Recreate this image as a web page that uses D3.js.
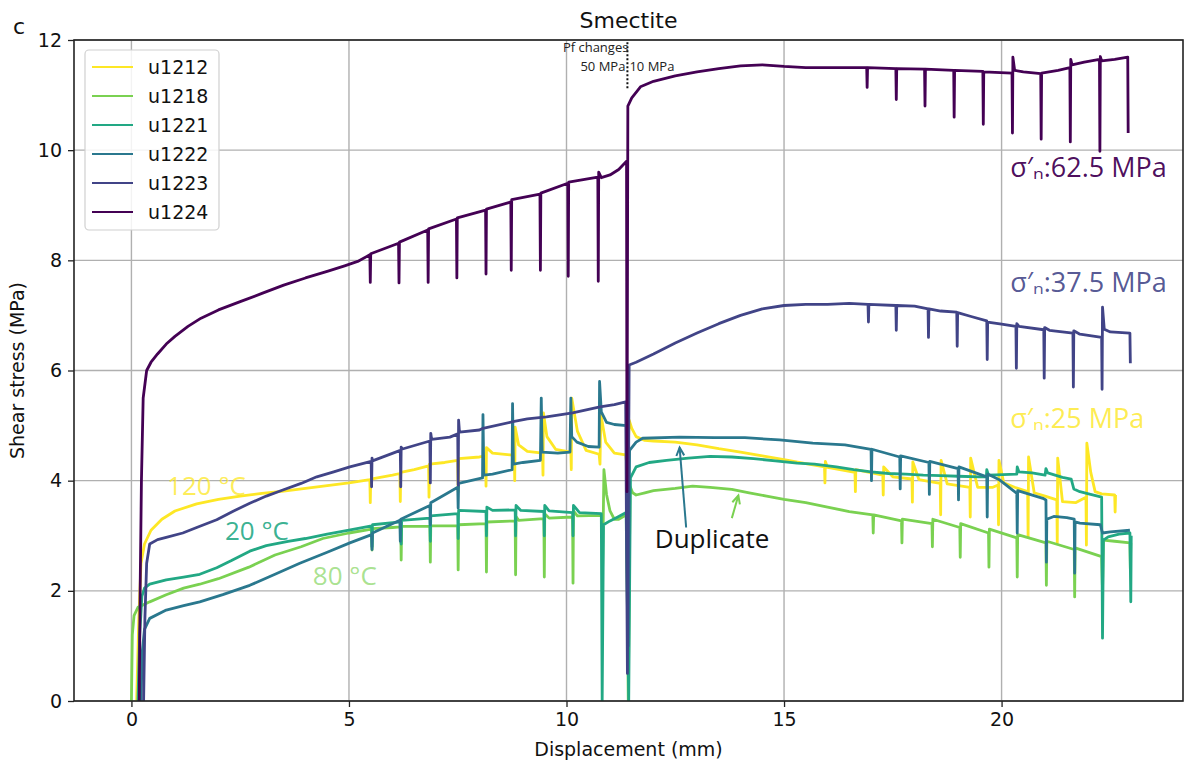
<!DOCTYPE html>
<html><head><meta charset="utf-8">
<script src="https://cdn.jsdelivr.net/npm/d3@7"></script>
<style>
body{margin:0;background:#fff;}
text{font-family:"DejaVu Sans",sans-serif;}
.ann{font-family:"Open Sans","Noto Sans",sans-serif;}
</style></head>
<body><svg id="c" width="1184" height="765"></svg>
<script>
// ---- data ----
const seriesNames = ["u1212","u1218","u1221","u1222","u1223","u1224"];
const seriesColors = ["#fde725","#7ad151","#22a884","#2a788e","#414487","#440154"];
const xTicks = [0,5,10,15,20];
const yTicks = [0,2,4,6,8,10,12];

const u1212 = [[0.12,0],[0.17,1.5],[0.22,2.5],[0.3,2.85],[0.45,3.1],[0.7,3.3],[1.0,3.45],[1.5,3.58],[2.0,3.66],[2.5,3.72],[3.0,3.77],[3.5,3.81],[4.0,3.86],[4.5,3.91],[5.0,3.96],[5.48,4.02],[5.49,3.6],[5.5,4.03],[6.0,4.1],[6.17,4.13],[6.18,3.62],[6.19,4.15],[6.5,4.2],[6.83,4.27],[6.84,3.7],[6.85,4.3],[7.2,4.33],[7.5,4.37],[7.51,3.8],[7.52,4.4],[8.0,4.43],[8.14,4.45],[8.15,3.9],[8.16,4.6],[8.3,4.5],[8.7,4.47],[8.8,4.46],[8.81,4.0],[8.82,4.97],[8.9,4.65],[9.1,4.53],[9.45,4.5],[9.46,4.1],[9.47,5.23],[9.55,4.8],[9.75,4.57],[10.1,4.52],[10.11,4.2],[10.12,5.5],[10.25,4.9],[10.45,4.55],[10.75,4.48],[10.77,4.3],[10.79,5.2],[10.9,4.7],[11.1,4.5],[11.36,4.47],[11.4,4.2],[11.44,5.1],[11.5,4.95],[11.6,4.8],[11.8,4.73],[12.0,4.72],[12.5,4.7],[13.0,4.65],[13.5,4.58],[14.0,4.52],[14.5,4.45],[15.0,4.38],[15.5,4.31],[15.93,4.25],[15.94,3.96],[15.95,4.35],[16.0,4.24],[16.63,4.15],[16.64,3.8],[16.65,4.2],[17.27,4.1],[17.28,3.74],[17.29,4.25],[17.5,4.07],[17.94,4.03],[17.95,3.61],[17.96,4.34],[18.1,4.02],[18.59,3.95],[18.6,3.38],[18.61,4.37],[18.75,3.94],[19.27,3.88],[19.28,3.34],[19.29,4.41],[19.45,3.88],[19.8,3.88],[19.92,3.92],[19.93,3.2],[19.94,4.37],[20.05,3.96],[20.3,3.88],[20.6,3.8],[20.61,2.98],[20.62,4.43],[20.75,3.78],[21.0,3.72],[21.27,3.65],[21.28,2.87],[21.29,4.41],[21.4,3.62],[21.7,3.6],[21.94,3.7],[21.95,2.83],[21.96,4.68],[22.05,4.15],[22.15,3.8],[22.3,3.76],[22.6,3.74],[22.61,3.43],[22.62,3.74]];

const u1218 = [[0.0,0],[0.02,1.2],[0.06,1.55],[0.15,1.7],[0.42,1.8],[0.8,1.93],[1.2,2.05],[1.57,2.12],[2.0,2.22],[2.7,2.43],[3.3,2.65],[3.9,2.8],[4.4,2.95],[5.0,3.05],[5.52,3.12],[5.53,2.74],[5.54,3.13],[6.0,3.15],[6.19,3.16],[6.2,2.56],[6.21,3.17],[6.86,3.17],[6.87,2.52],[6.88,3.18],[7.5,3.18],[7.51,2.38],[7.52,3.2],[8.15,3.22],[8.16,2.34],[8.17,3.25],[8.82,3.27],[8.83,2.29],[8.84,3.35],[8.9,3.28],[9.48,3.31],[9.49,2.25],[9.5,3.4],[9.6,3.32],[10.14,3.34],[10.15,2.14],[10.16,3.45],[10.25,3.36],[10.82,3.37],[10.83,2.43],[10.86,4.2],[10.92,3.75],[11.0,3.45],[11.1,3.3],[11.2,3.3],[11.38,3.38],[11.42,0],[11.46,3.9],[11.52,3.78],[11.6,3.74],[11.8,3.78],[12.0,3.82],[12.5,3.86],[12.9,3.9],[13.3,3.88],[13.8,3.84],[14.2,3.78],[14.6,3.72],[15.0,3.66],[15.5,3.6],[16.0,3.52],[16.5,3.44],[17.04,3.38],[17.05,3.05],[17.06,3.38],[17.7,3.27],[17.71,2.87],[17.72,3.3],[18.4,3.22],[18.41,2.8],[18.42,3.3],[19.04,3.15],[19.05,2.61],[19.06,3.22],[19.7,3.05],[19.71,2.43],[19.72,3.12],[20.35,2.96],[20.36,2.25],[20.37,3.02],[21.02,2.87],[21.03,2.1],[21.04,2.9],[21.67,2.75],[21.68,1.89],[21.69,2.78],[22.3,2.62],[22.32,2.0],[22.34,2.92],[22.6,2.9],[22.95,2.87],[22.96,2.4],[22.97,2.87]];

const u1221 = [[0.15,0],[0.19,1.2],[0.24,1.9],[0.3,2.05],[0.42,2.12],[0.8,2.2],[1.2,2.25],[1.57,2.3],[1.96,2.42],[2.3,2.55],[2.72,2.72],[3.1,2.82],[3.6,2.9],[4.0,2.95],[4.5,3.03],[5.0,3.1],[5.52,3.18],[5.53,2.8],[5.54,3.2],[6.19,3.25],[6.2,2.85],[6.21,3.28],[6.86,3.32],[6.87,2.9],[6.88,3.36],[7.5,3.4],[7.51,2.95],[7.52,3.46],[8.15,3.44],[8.16,3.0],[8.17,3.52],[8.3,3.46],[8.82,3.47],[8.83,3.0],[8.84,3.55],[8.95,3.46],[9.48,3.44],[9.49,3.0],[9.5,3.55],[9.6,3.45],[10.14,3.42],[10.15,3.0],[10.16,3.55],[10.3,3.42],[10.8,3.4],[10.82,0],[10.85,3.2],[11.0,3.27],[11.2,3.35],[11.37,3.42],[11.43,0],[11.47,4.05],[11.6,4.25],[11.9,4.33],[12.3,4.37],[12.8,4.41],[13.3,4.44],[13.8,4.43],[14.3,4.4],[14.8,4.36],[15.3,4.32],[15.7,4.3],[16.2,4.25],[16.6,4.2],[17.0,4.16],[17.4,4.13],[17.8,4.12],[18.2,4.1],[18.6,4.09],[19.0,4.08],[19.5,4.07],[19.65,4.07],[19.66,4.2],[19.7,4.1],[20.35,4.12],[20.36,4.25],[20.4,4.16],[20.7,4.14],[21.0,4.1],[21.02,4.22],[21.06,4.14],[21.4,4.06],[21.6,4.03],[21.66,3.85],[21.8,3.8],[22.0,3.76],[22.3,3.7],[22.32,1.14],[22.34,2.92],[22.45,2.98],[22.7,3.03],[22.95,3.05],[22.97,1.8],[22.98,3.0]];

const u1222 = [[0.22,0],[0.25,0.9],[0.3,1.3],[0.42,1.5],[0.8,1.65],[1.2,1.73],[1.57,1.8],[2.1,1.93],[2.72,2.1],[3.3,2.3],[3.87,2.5],[4.5,2.7],[5.02,2.87],[5.52,3.02],[5.53,2.75],[5.54,3.05],[6.17,3.28],[6.18,2.9],[6.19,3.3],[6.86,3.55],[6.87,3.2],[6.88,3.6],[7.32,3.8],[7.5,3.88],[7.51,3.5],[7.52,3.95],[8.07,4.05],[8.08,5.2],[8.1,4.1],[8.3,4.12],[8.75,4.2],[8.76,5.4],[8.78,4.3],[9.0,4.33],[9.4,4.37],[9.42,5.5],[9.44,4.52],[9.8,4.5],[10.08,4.52],[10.1,5.5],[10.12,4.8],[10.24,4.7],[10.5,4.62],[10.75,4.61],[10.76,5.8],[10.8,5.25],[10.92,5.06],[11.1,5.02],[11.38,5.0],[11.42,1.0],[11.45,4.55],[11.6,4.7],[11.75,4.77],[12.6,4.79],[13.4,4.78],[14.1,4.78],[14.9,4.74],[15.66,4.68],[16.4,4.65],[17.0,4.57],[17.01,4.0],[17.02,4.57],[17.66,4.43],[17.67,3.85],[17.68,4.45],[18.33,4.33],[18.34,3.75],[18.35,4.35],[19.0,4.22],[19.01,3.65],[19.02,4.25],[19.66,4.07],[19.67,3.34],[19.68,4.12],[19.96,4.01],[20.35,3.77],[20.36,3.05],[20.37,3.82],[20.95,3.68],[21.02,3.65],[21.03,2.52],[21.04,3.3],[21.2,3.35],[21.5,3.33],[21.67,3.3],[21.68,2.32],[21.69,3.25],[21.8,3.23],[22.27,3.2],[22.32,3.05],[22.5,3.07],[22.95,3.1]];

const u1223 = [[0.28,0],[0.31,1.5],[0.35,2.5],[0.42,2.85],[0.6,2.93],[0.8,2.97],[1.18,3.05],[1.5,3.15],[1.96,3.29],[2.35,3.45],[2.72,3.59],[3.1,3.72],[3.48,3.83],[3.9,3.95],[4.26,4.07],[4.65,4.16],[5.02,4.25],[5.51,4.35],[5.52,3.89],[5.53,4.41],[5.54,4.36],[6.18,4.55],[6.19,3.89],[6.2,4.61],[6.21,4.57],[6.86,4.72],[6.87,3.96],[6.88,4.86],[6.9,4.75],[7.32,4.79],[7.5,4.85],[7.51,3.92],[7.52,5.1],[7.54,4.88],[8.0,4.92],[8.08,4.95],[8.77,5.07],[9.1,5.12],[9.54,5.16],[10.14,5.23],[10.77,5.34],[11.1,5.38],[11.36,5.43],[11.4,0.5],[11.44,6.1],[11.6,6.15],[12.0,6.3],[12.5,6.5],[13.0,6.68],[13.5,6.85],[14.0,7.0],[14.5,7.12],[15.0,7.18],[15.5,7.2],[16.0,7.2],[16.5,7.22],[16.93,7.2],[16.94,6.88],[16.95,7.2],[17.57,7.18],[17.58,6.73],[17.59,7.18],[18.0,7.17],[18.31,7.12],[18.32,6.6],[18.33,7.12],[18.6,7.08],[18.97,7.06],[18.98,6.44],[18.99,7.05],[19.3,6.98],[19.66,6.9],[19.67,6.2],[19.68,6.88],[20.0,6.84],[20.33,6.8],[20.34,6.04],[20.35,6.85],[20.4,6.8],[20.97,6.74],[20.98,5.86],[20.99,6.78],[21.1,6.73],[21.64,6.68],[21.65,5.7],[21.66,6.72],[21.8,6.66],[22.3,6.6],[22.31,5.66],[22.32,7.15],[22.36,6.75],[22.5,6.7],[22.95,6.68],[22.96,6.13]];

const u1224 = [[0.18,0],[0.2,2.0],[0.23,4.0],[0.27,5.5],[0.35,6.0],[0.45,6.15],[0.6,6.3],[0.8,6.48],[1.0,6.62],[1.3,6.8],[1.6,6.95],[2.0,7.1],[2.5,7.25],[3.0,7.4],[3.5,7.55],[4.0,7.68],[4.5,7.8],[4.9,7.9],[5.2,7.98],[5.48,8.1],[5.49,7.6],[5.5,8.12],[6.14,8.31],[6.15,7.59],[6.16,8.33],[6.81,8.55],[6.82,7.6],[6.83,8.57],[7.47,8.75],[7.48,7.68],[7.49,8.77],[8.14,8.91],[8.15,7.75],[8.16,8.93],[8.72,9.06],[8.73,7.82],[8.74,9.1],[9.39,9.2],[9.4,7.82],[9.41,9.22],[10.03,9.4],[10.04,7.71],[10.05,9.42],[10.72,9.51],[10.73,7.62],[10.74,9.6],[10.8,9.5],[11.0,9.55],[11.2,9.65],[11.38,9.8],[11.39,3.8],[11.41,10.8],[11.5,10.95],[11.7,11.15],[12.0,11.25],[12.5,11.35],[13.0,11.42],[13.5,11.48],[14.0,11.53],[14.5,11.55],[15.0,11.52],[15.5,11.5],[16.0,11.5],[16.5,11.5],[16.9,11.5],[16.91,11.14],[16.92,11.5],[17.57,11.48],[17.58,10.92],[17.59,11.48],[18.23,11.47],[18.24,10.8],[18.25,11.47],[18.9,11.45],[18.91,10.6],[18.92,11.45],[19.57,11.43],[19.58,10.47],[19.59,11.42],[20.24,11.4],[20.25,10.31],[20.26,11.69],[20.3,11.45],[20.5,11.42],[20.9,11.39],[20.91,10.2],[20.92,11.4],[21.3,11.45],[21.57,11.5],[21.58,10.15],[21.59,11.65],[21.62,11.55],[21.9,11.6],[22.25,11.65],[22.26,9.98],[22.27,11.7],[22.3,11.62],[22.6,11.65],[22.9,11.69],[22.91,10.31]];

const seriesData = [u1212,u1218,u1221,u1222,u1223,u1224];
const tempLabels = ["120 °C","20 °C","80 °C"];
const sigmaLabels = ["σ′ₙ:62.5 MPa","σ′ₙ:37.5 MPa","σ′ₙ:25 MPa"];

// ---- layout ----
const svg = d3.select("#c");
const L=74, R=1183, T=40, B=701;
const x = d3.scaleLinear().domain([-1.32,24.17]).range([L,R]);
const y = d3.scaleLinear().domain([0,12]).range([B,T]);

svg.append("rect").attr("x",0).attr("y",0).attr("width",1184).attr("height",765).attr("fill","#fff");
svg.append("defs").append("clipPath").attr("id","clip").append("rect")
  .attr("x",L).attr("y",T).attr("width",R-L).attr("height",B-T);

// grid
const grid = svg.append("g");
grid.selectAll(".gx").data(xTicks).join("line")
  .attr("x1",d=>x(d)).attr("x2",d=>x(d)).attr("y1",T).attr("y2",B)
  .attr("stroke","#b0b0b0").attr("stroke-width",1.4);
grid.selectAll(".gy").data(yTicks).join("line")
  .attr("y1",d=>y(d)).attr("y2",d=>y(d)).attr("x1",L).attr("x2",R)
  .attr("stroke","#b0b0b0").attr("stroke-width",1.4);

// lines
const line = d3.line().x(d=>x(d[0])).y(d=>y(d[1]));
const lg = svg.append("g").attr("clip-path","url(#clip)");
seriesData.forEach((s,i)=>{
  lg.append("path").attr("d",line(s)).attr("fill","none")
    .attr("stroke",seriesColors[i]).attr("stroke-width",2.8)
    .attr("stroke-linejoin","round");
});

// axes
const xAxis = d3.axisBottom(x).tickValues(xTicks).tickSize(6).tickPadding(6);
const yAxis = d3.axisLeft(y).tickValues(yTicks).tickSize(6).tickPadding(6);
const gx = svg.append("g").attr("transform",`translate(0,${B})`).call(xAxis);
const gy = svg.append("g").attr("transform",`translate(${L},0)`).call(yAxis);
[gx,gy].forEach(g=>{
  g.select(".domain").remove();
  g.selectAll("line").attr("stroke","#222").attr("stroke-width",1.3);
  g.selectAll("text").attr("font-family","DejaVu Sans").attr("font-size",19).attr("fill","#111");
});
// frame
svg.append("rect").attr("x",L).attr("y",T).attr("width",R-L).attr("height",B-T)
  .attr("fill","none").attr("stroke","#222").attr("stroke-width",1.6);

// titles
svg.append("text").attr("x",(L+R)/2).attr("y",28).attr("text-anchor","middle")
  .attr("font-size",22).attr("fill","#111").text("Smectite");
svg.append("text").attr("x",13).attr("y",34).attr("font-size",22).attr("fill","#111").text("c");
svg.append("text").attr("x",(L+R)/2).attr("y",756).attr("text-anchor","middle")
  .attr("font-size",19).attr("fill","#111").text("Displacement (mm)");
svg.append("text").attr("transform",`translate(24,${(T+B)/2}) rotate(-90)`).attr("text-anchor","middle")
  .attr("font-size",19).attr("fill","#111").text("Shear stress (MPa)");

// legend
const leg = svg.append("g");
leg.append("rect").attr("x",85).attr("y",50).attr("width",134).attr("height",180).attr("rx",4)
  .attr("fill","#fff").attr("fill-opacity",0.85).attr("stroke","#d0d0d0").attr("stroke-width",1.2);
seriesNames.forEach((n,i)=>{
  const yy = 67 + i*29;
  leg.append("line").attr("x1",92).attr("x2",133).attr("y1",yy).attr("y2",yy)
    .attr("stroke",seriesColors[i]).attr("stroke-width",2.2);
  leg.append("text").attr("x",148).attr("y",yy+7).attr("font-size",19).attr("fill","#111").text(n);
});

// Pf annotation
const xPf = 11.4;
svg.append("line").attr("x1",x(xPf)).attr("x2",x(xPf)).attr("y1",y(11.96)).attr("y2",y(11.1))
  .attr("stroke","#111").attr("stroke-width",2).attr("stroke-dasharray","2,2");
svg.append("text").attr("class","ann").attr("x",x(xPf)+1).attr("y",52).attr("text-anchor","end")
  .attr("font-size",13).attr("fill","#222").text("Pf changes");
svg.append("text").attr("class","ann").attr("x",x(xPf)-2).attr("y",71).attr("text-anchor","end")
  .attr("font-size",13).attr("fill","#222").text("50 MPa");
svg.append("text").attr("class","ann").attr("x",x(xPf)+2).attr("y",71).attr("text-anchor","start")
  .attr("font-size",13).attr("fill","#222").text("10 MPa");

// temperature labels
const tempPos = [[0.82,3.74],[2.15,2.92],[4.17,2.1]];
const tempCol = ["#fde725","#22a884","#7ad151"];
const tempOp = [0.75,0.9,0.65];
tempLabels.forEach((t,i)=>{
  svg.append("text").attr("class","ann").attr("x",x(tempPos[i][0])).attr("y",y(tempPos[i][1]))
    .attr("font-size",26).attr("fill",tempCol[i]).attr("fill-opacity",tempOp[i]).text(t);
});

// Duplicate
svg.append("text").attr("class","ann").attr("x",x(12.03)).attr("y",y(2.78))
  .attr("font-size",26).attr("fill","#111").text("Duplicate");
function arrow(x0,y0,x1,y1,col){
  const px0=x(x0),py0=y(y0),px1=x(x1),py1=y(y1);
  const a=Math.atan2(py1-py0,px1-px0), h=9, w=0.45;
  svg.append("line").attr("x1",px0).attr("y1",py0).attr("x2",px1).attr("y2",py1)
    .attr("stroke",col).attr("stroke-width",2);
  svg.append("path").attr("d",`M${px1-h*Math.cos(a-w)},${py1-h*Math.sin(a-w)} L${px1},${py1} L${px1-h*Math.cos(a+w)},${py1-h*Math.sin(a+w)}`)
    .attr("fill","none").attr("stroke",col).attr("stroke-width",2);
}
arrow(12.75,3.15,12.6,4.6,"#2a788e");
arrow(13.8,3.32,13.95,3.73,"#7ad151");

// sigma labels
const sigPos = [[20.2,9.51],[20.2,7.43],[20.2,4.96]];
const sigCol = ["#440154","#414487","#fde725"];
const sigOp = [0.95,0.9,0.8];
sigmaLabels.forEach((t,i)=>{
  svg.append("text").attr("class","ann").attr("x",x(sigPos[i][0])).attr("y",y(sigPos[i][1]))
    .attr("font-size",27).attr("fill",sigCol[i]).attr("fill-opacity",sigOp[i]).text(t);
});
</script></body></html>
